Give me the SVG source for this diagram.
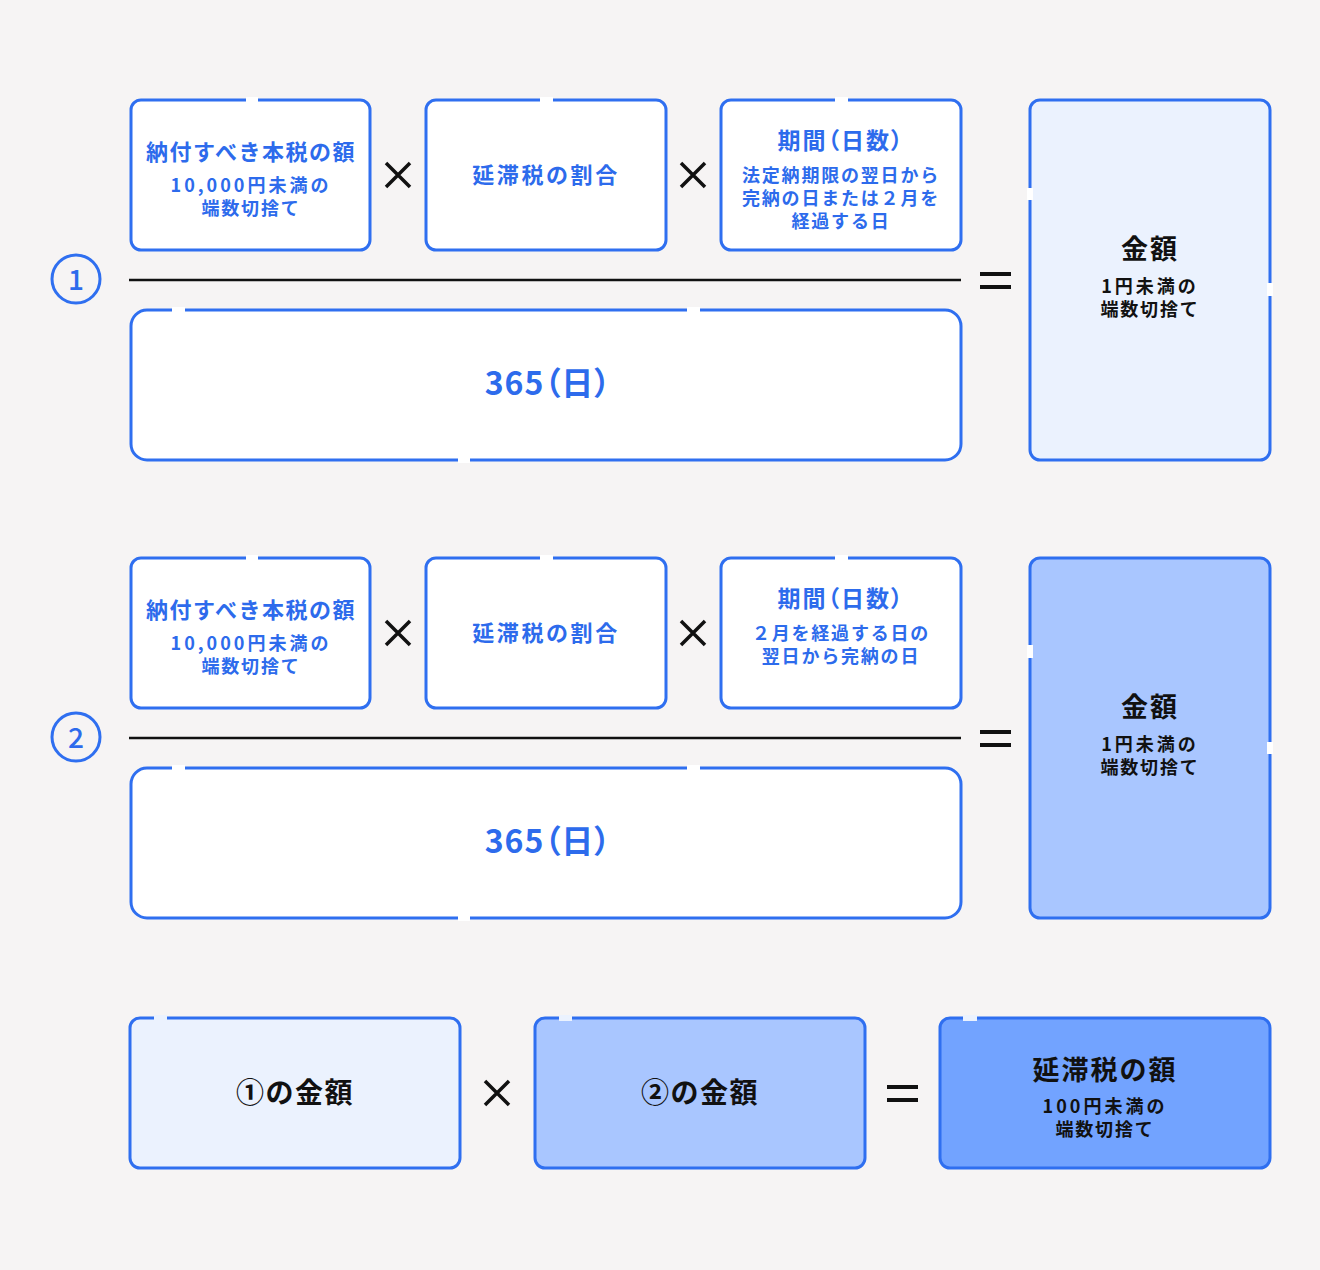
<svg xmlns="http://www.w3.org/2000/svg" width="1320" height="1270" viewBox="0 0 1320 1270">
<style>
.bx{stroke:#2f6ff0;stroke-width:3;fill:#fff}
.l1{fill:#ebf2fe}.l2{fill:#a9c6ff}.l3{fill:#72a3ff}
.gap{fill:#fff}
text{font-family:"Noto Sans CJK JP","Noto Sans",sans-serif;font-weight:700;text-anchor:middle}
.b{fill:#2d6bec}.k{fill:#111}
.t1{font-size:22px;letter-spacing:1.5px}
.t1w{font-size:22px;letter-spacing:2.6px}
.t2{font-size:18px;letter-spacing:1.8px}
.t2d{font-size:18px;letter-spacing:3px}
.pa{font-feature-settings:"palt";font-size:23px;letter-spacing:2px}
.big{font-size:32px;letter-spacing:1px;font-feature-settings:"palt"}
.op{stroke:#111;stroke-width:3.5;fill:none}
.bar{stroke:#111;stroke-width:2.5}
.circ{fill:none;stroke:#2f6ff0;stroke-width:3}
</style>
<rect width="1320" height="1270" fill="#f6f4f4"/>

<g id="row1">
<g id="n1a"><rect class="bx" x="131" y="100" width="239" height="150" rx="10"/><rect class="gap" x="246" y="97" width="12" height="6"/>
<text class="b t1" x="251" y="160">納付すべき本税の額</text>
<text class="b t2d" x="251" y="192">10,000円未満の</text>
<text class="b t2" x="251" y="215">端数切捨て</text></g>
<g id="n1b"><rect class="bx" x="426" y="100" width="240" height="150" rx="10"/><rect class="gap" x="540" y="97" width="13" height="6"/>
<text class="b t1w" x="546" y="183">延滞税の割合</text></g>
<g id="n1c"><rect class="bx" x="721" y="100" width="240" height="150" rx="10"/><rect class="gap" x="835" y="97" width="13" height="6"/>
<text class="b pa" x="841" y="149">期間（日数）</text>
<text class="b t2" x="841" y="182">法定納期限の翌日から</text>
<text class="b t2" x="841" y="205">完納の日または２月を</text>
<text class="b t2" x="841" y="228">経過する日</text></g>
<g id="n1d"><rect class="bx" x="131" y="310" width="830" height="150" rx="16"/><rect class="gap" x="172" y="307" width="13" height="6"/><rect class="gap" x="687" y="307" width="13" height="6"/><rect class="gap" x="458" y="457" width="12" height="6"/>
<text class="b big" x="548" y="395">365（日）</text></g>
<g id="n1r"><rect class="bx l1" x="1030" y="100" width="240" height="360" rx="10"/><rect class="gap" x="1027" y="188" width="6" height="12"/><rect class="gap" x="1267" y="283" width="6" height="13"/>
<text class="k" x="1150" y="259" style="font-size:27px;letter-spacing:2px">金額</text>
<text class="k t2d" x="1150" y="293">1円未満の</text>
<text class="k t2" x="1150" y="316">端数切捨て</text></g>
<g id="c1"><circle class="circ" cx="76" cy="279" r="24"/><text class="b" x="76" y="290" style="font-size:28px;font-weight:500">1</text></g>
</g>

<g id="row2">
<g id="n2a"><rect class="bx" x="131" y="558" width="239" height="150" rx="10"/><rect class="gap" x="246" y="555" width="12" height="6"/>
<text class="b t1" x="251" y="618">納付すべき本税の額</text>
<text class="b t2d" x="251" y="650">10,000円未満の</text>
<text class="b t2" x="251" y="673">端数切捨て</text></g>
<g id="n2b"><rect class="bx" x="426" y="558" width="240" height="150" rx="10"/><rect class="gap" x="540" y="555" width="13" height="6"/>
<text class="b t1w" x="546" y="641">延滞税の割合</text></g>
<g id="n2c"><rect class="bx" x="721" y="558" width="240" height="150" rx="10"/><rect class="gap" x="835" y="555" width="13" height="6"/>
<text class="b pa" x="841" y="607">期間（日数）</text>
<text class="b t2" x="841" y="640">２月を経過する日の</text>
<text class="b t2" x="841" y="663">翌日から完納の日</text></g>
<g id="n2d"><rect class="bx" x="131" y="768" width="830" height="150" rx="16"/><rect class="gap" x="172" y="765" width="13" height="6"/><rect class="gap" x="687" y="765" width="13" height="6"/><rect class="gap" x="458" y="915" width="12" height="6"/>
<text class="b big" x="548" y="853">365（日）</text></g>
<g id="n2r"><rect class="bx l2" x="1030" y="558" width="240" height="360" rx="10"/><rect class="gap" x="1027" y="645" width="6" height="13"/><rect class="gap" x="1267" y="742" width="6" height="12"/>
<text class="k" x="1150" y="717" style="font-size:27px;letter-spacing:2px">金額</text>
<text class="k t2d" x="1150" y="751">1円未満の</text>
<text class="k t2" x="1150" y="774">端数切捨て</text></g>
<g id="c2"><circle class="circ" cx="76" cy="737" r="24"/><text class="b" x="76" y="748" style="font-size:28px;font-weight:500">2</text></g>
</g>

<g id="row3">
<g id="n3a"><rect class="bx l1" x="130" y="1018" width="330" height="150" rx="10"/><rect class="gap" x="154" y="1015" width="13" height="6" style="fill:#ebf2fe"/>
<text class="k" x="295" y="1103" style="font-size:28px;letter-spacing:1.5px">①の金額</text></g>
<g id="n3b"><rect class="bx l2" x="535" y="1018" width="330" height="150" rx="10"/><rect class="gap" x="559" y="1015" width="13" height="6" style="fill:#ebf2fe"/>
<text class="k" x="700" y="1103" style="font-size:28px;letter-spacing:1.5px">②の金額</text></g>
<g id="n3c"><rect class="bx l3" x="940" y="1018" width="330" height="150" rx="10"/><rect class="gap" x="963" y="1015" width="14" height="6" style="fill:#ebf2fe"/>
<text class="k" x="1105" y="1080" style="font-size:27px;letter-spacing:2px">延滞税の額</text>
<text class="k t2d" x="1105" y="1113">100円未満の</text>
<text class="k t2" x="1105" y="1136">端数切捨て</text></g>
</g>

<g id="connectors">
<path class="op" d="M386 163L410 187M410 163L386 187M681 163L705 187M705 163L681 187"/>
<path class="op" d="M386 621L410 645M410 621L386 645M681 621L705 645M705 621L681 645"/>
<path class="op" d="M485 1081L509 1105M509 1081L485 1105"/>
<line x1="129" y1="280" x2="961" y2="280" class="bar"/>
<line x1="129" y1="738" x2="961" y2="738" class="bar"/>
<path d="M980 274H1011M980 287H1011M980 732H1011M980 745H1011M887 1087H918M887 1100H918" stroke="#111" stroke-width="4"/>
</g>
</svg>
